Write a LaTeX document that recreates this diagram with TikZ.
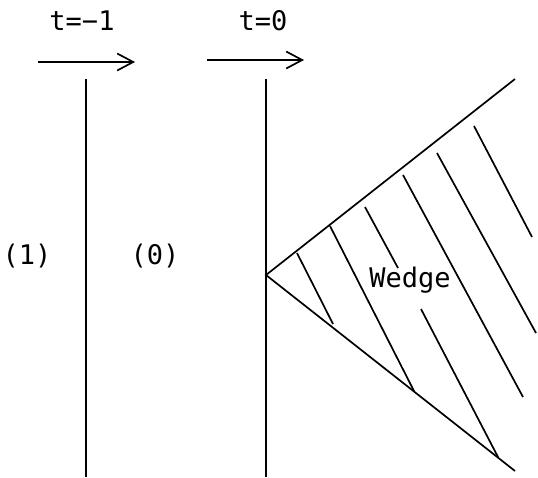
\documentclass[tikz,border=0pt]{standalone}
\usepackage{fontspec}
\setmonofont{DejaVu Sans Mono}
\usetikzlibrary{arrows.meta}

\begin{document}
\begin{tikzpicture}[
			x=1pt, y=-1pt,
			every node/.style={
				inner sep=0pt,
				font=\ttfamily\fontsize{27}{31}\selectfont
			},
			wall/.style={line width=1.9pt},
			hatch/.style={line width=1.7pt},
			timearrow/.style={line width=1.7pt,-{Straight Barb[length=16pt,width=17pt,line width=1.7pt]}}
			]
			
			\useasboundingbox (0,0) rectangle (538,477);
			
			% time labels and arrows
			\node (tminus) at (82,21) {t=−1};
			\node (tzero) at (263,21) {t=0};
			\coordinate (a1s) at (38,62);
			\coordinate (a1e) at (135,62);
			\coordinate (a0s) at (207,60);
			\coordinate (a0e) at (304,60);
			\draw[timearrow] (a1s) -- (a1e);
			\draw[timearrow] (a0s) -- (a0e);
			
			% walls
			\coordinate (w1top) at (86,79);
			\coordinate (w1bot) at (86,477);
			\coordinate (w0top) at (266,79);
			\coordinate (w0bot) at (266,477);
			\draw[wall] (w1top) -- (w1bot);
			\draw[wall] (w0top) -- (w0bot);
			
			\node (reg1) at (27,256) {(1)};
			\node (reg0) at (155,256) {(0)};
			
			% wedge
			\coordinate (apex) at (266,275);
			\coordinate (up) at (515,79);
			\coordinate (low) at (515,471);
			\draw[hatch] (up) -- (apex) -- (low);
			
			\draw[hatch] (297,253) -- (333,324);
			\draw[hatch] (330,226) -- (414,391);
			\draw[hatch] (365,207) -- (398,268);
			\draw[hatch] (421,309) -- (498,457);
			\draw[hatch] (403,175) -- (523,397);
			\draw[hatch] (437,153) -- (536,333);
			\draw[hatch] (474,126) -- (532,237);
			
			\node (wedge) at (410,280) {Wedge};
			
		\end{tikzpicture}
\end{document}
